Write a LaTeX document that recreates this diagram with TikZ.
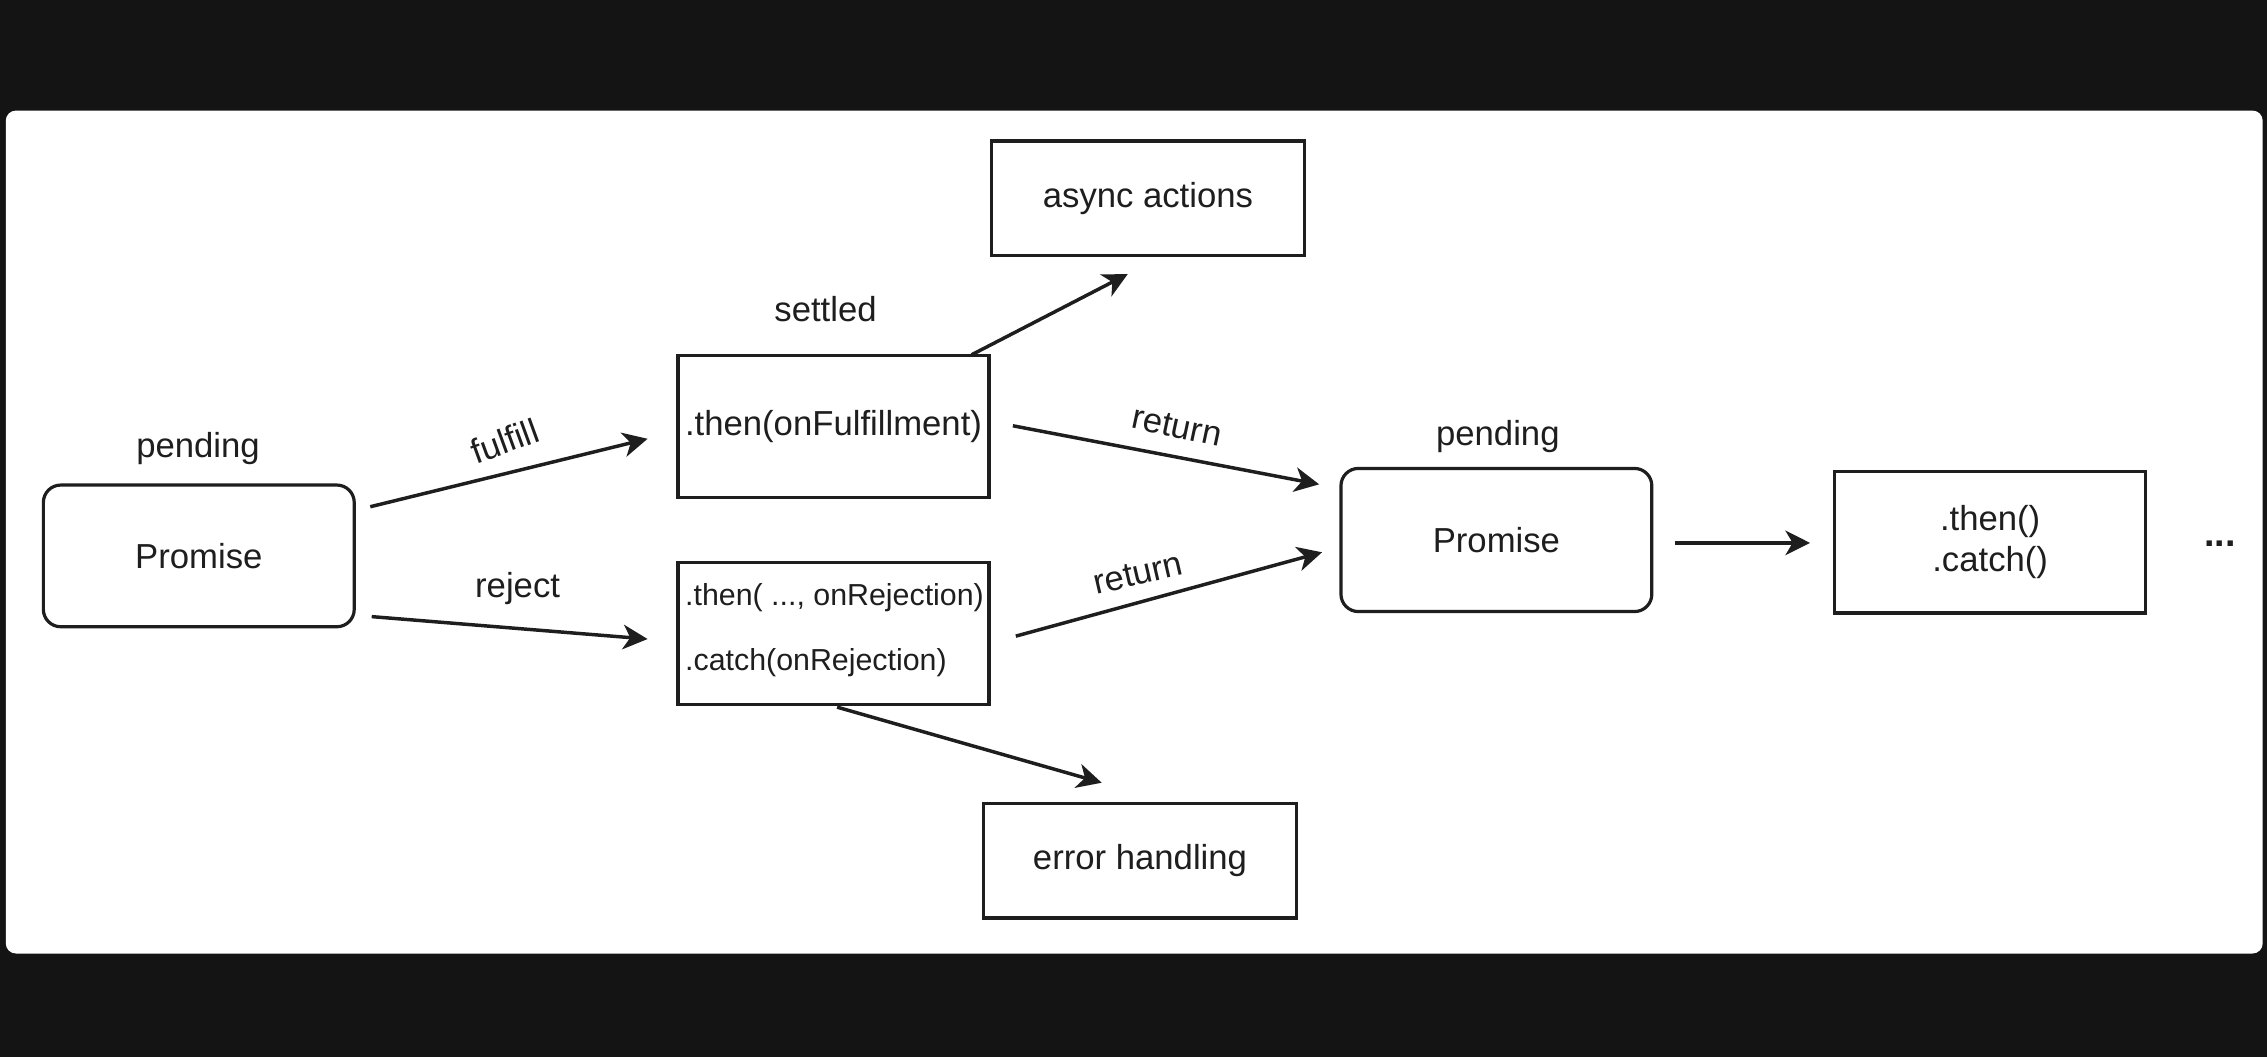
\documentclass[tikz,border=0pt]{standalone}
\usepackage{fontspec}
\setmainfont{Liberation Sans}
\usetikzlibrary{arrows.meta,calc}
\definecolor{bg}{HTML}{141414}
\definecolor{ink}{HTML}{1E1E1E}
\begin{document}
\begin{tikzpicture}[x=0.5pt,y=-0.5pt,
  font=\fontsize{12}{14.2}\selectfont, text=ink,
  box/.style={draw=ink, line width=1.1pt, minimum width=107.5pt, minimum height=49pt, inner sep=0pt},
  rbox/.style={box, rounded corners=6pt},
  lbl/.style={inner sep=0pt},
  small/.style={font=\fontsize{10.5}{12.6}\selectfont},
  conn/.style={draw=ink, line width=1.2pt, -{Stealth[length=8.5pt,width=8.5pt,inset=2.5pt]}}]
\fill[bg] (0,0) rectangle (1568,731);
\useasboundingbox (0,0) rectangle (1568,731);
\fill[white, rounded corners=3.5pt] (4,76.5) rectangle (1565,659.5);

% boxes
\node[rbox] (p1) at (137.5,384.5) {Promise};
\node[box] (ful) at (576.5,295) {.then(onFulfillment)};
\node[box, minimum width=108.5pt, minimum height=39.5pt] (async) at (794,137) {async actions};
\node[box] (rej) at (576.5,438) {};
\node[lbl, small, anchor=base west] (rej1) at (473.5,418.5) {.then( ..., onRejection)};
\node[lbl, small, anchor=base west] (rej2) at (473.5,464) {.catch(onRejection)};
\node[box, minimum width=108.5pt, minimum height=39.5pt] (err) at (788.5,595.5) {error handling};
\node[rbox, minimum height=49.5pt] (p2) at (1035,373.5) {Promise};
\node[box, align=center] (tc) at (1376.5,375) {.then()\\.catch()};

% state labels
\node[lbl] (pend1) at (137,310) {pending};
\node[lbl] (settled) at (571,214) {settled};
\node[lbl] (pend2) at (1036,302) {pending};
\node[lbl, font=\fontsize{13}{14}\selectfont\bfseries] (more) at (1535.5,376) {...};

% connector end points
\coordinate (fs) at ($(p1.east)+(10,-34)$);
\coordinate (fe) at ($(ful.west)+(-20,8.5)$);
\coordinate (rs) at ($(p1.east)+(11,42)$);
\coordinate (re) at ($(rej.west)+(-20,4)$);
\coordinate (as) at ($(ful.north)+(95.5,0.5)$);
\coordinate (ae) at ($(async.south)+(-14,12)$);
\coordinate (es) at ($(rej.south)+(2.5,1)$);
\coordinate (ee) at ($(err.north)+(-26.5,-13.5)$);
\coordinate (r1s) at ($(ful.east)+(15.5,-0.5)$);
\coordinate (r1e) at ($(p2.west)+(-14,-38.5)$);
\coordinate (r2s) at ($(rej.east)+(17.5,2)$);
\coordinate (r2e) at ($(p2.west)+(-12,8.5)$);
\coordinate (ps) at ($(p2.east)+(15,2)$);
\coordinate (pe) at ($(tc.west)+(-16,0.5)$);

% connectors
\draw[conn] (fs) -- (fe);
\draw[conn] (rs) -- (re);
\draw[conn] (as) -- (ae);
\draw[conn] (es) -- (ee);
\draw[conn] (r1s) -- (r1e);
\draw[conn] (r2s) -- (r2e);
\draw[conn] (ps) -- (pe);

% connector labels
\node[lbl, rotate=20] (lful) at (349,305) {fulfill};
\node[lbl] (lrej) at (358,407) {reject};
\node[lbl, rotate=-12] (lret1) at (814,295) {return};
\node[lbl, rotate=13] (lret2) at (787,397) {return};
\end{tikzpicture}
\end{document}
